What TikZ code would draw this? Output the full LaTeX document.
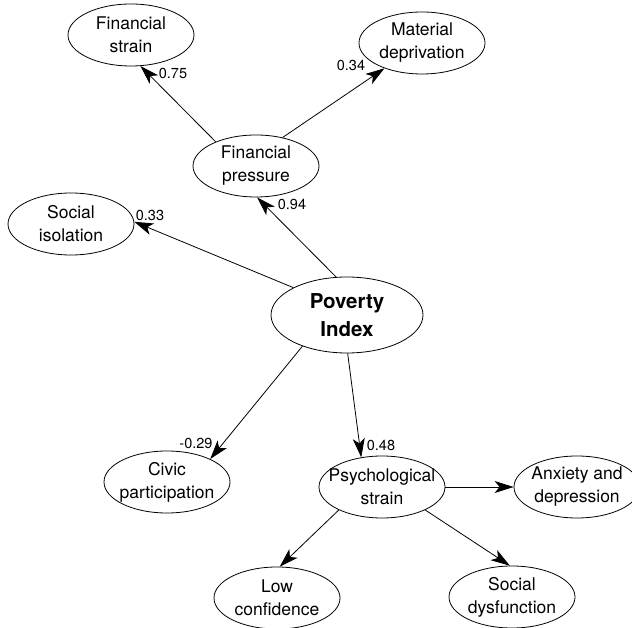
\documentclass[tikz,border=0pt]{standalone}
\usepackage{fontspec}
\setmainfont{TeX Gyre Heros}
\usetikzlibrary{shapes.geometric,arrows.meta}
\tikzset{
  var/.style={ellipse, draw, line width=0.8pt, minimum width=126pt, minimum height=62pt, inner xsep=-30pt, inner ysep=0pt, align=center, font=\fontsize{17.5}{23}\selectfont},
  core/.style={var, minimum width=152pt, minimum height=76pt, font=\fontsize{20.5}{28}\selectfont\bfseries},
  link/.style={line width=0.8pt, -{Stealth[length=19pt,width=12pt,inset=5pt]}},
  coef/.style={font=\fontsize{14.5}{16}\selectfont, inner sep=0pt}
}
\begin{document}
\begin{tikzpicture}[x=1pt,y=-1pt]
\useasboundingbox[fill=white] (0,0) rectangle (632,628);
\node[var] (fs) at (131,35) {Financial\\strain};
\node[var] (md) at (422,43) {Material\\deprivation};
\node[var] (fp) at (256,166) {Financial\\pressure};
\node[var] (si) at (71,224) {Social\\isolation};
\node[core] (pi) at (347,315) {Poverty\\Index};
\node[var] (cp) at (167,482) {Civic\\participation};
\node[var] (ps) at (382,487) {Psychological\\strain};
\node[var] (ad) at (577,487) {Anxiety and\\depression};
\node[var] (lc) at (277,598) {Low\\confidence};
\node[var] (sd) at (512,597) {Social\\dysfunction};

\draw[link] (fp.149) -- (fs.-73);
\draw[link] (fp.47) -- (md.-146);
\draw[link] (pi.106) -- (fp.-88);
\draw[link] (pi.153) -- (si.2);
\draw[link] (pi.215) -- (cp.28);
\draw[link] (pi.-89) -- (ps.125);
\draw[link] (ps.east) -- (ad.west);
\draw[link] (ps.208) -- (lc.85);
\draw[link] (ps.-28) -- (sd.94);

\node[coef] (l1) at (173,73) {0.75};
\node[coef] (l2) at (351,65) {0.34};
\node[coef] (l3) at (292,204) {0.94};
\node[coef] (l4) at (150,215) {0.33};
\node[coef] (l5) at (196,443) {-0.29};
\node[coef] (l6) at (381,445) {0.48};
\end{tikzpicture}
\end{document}
